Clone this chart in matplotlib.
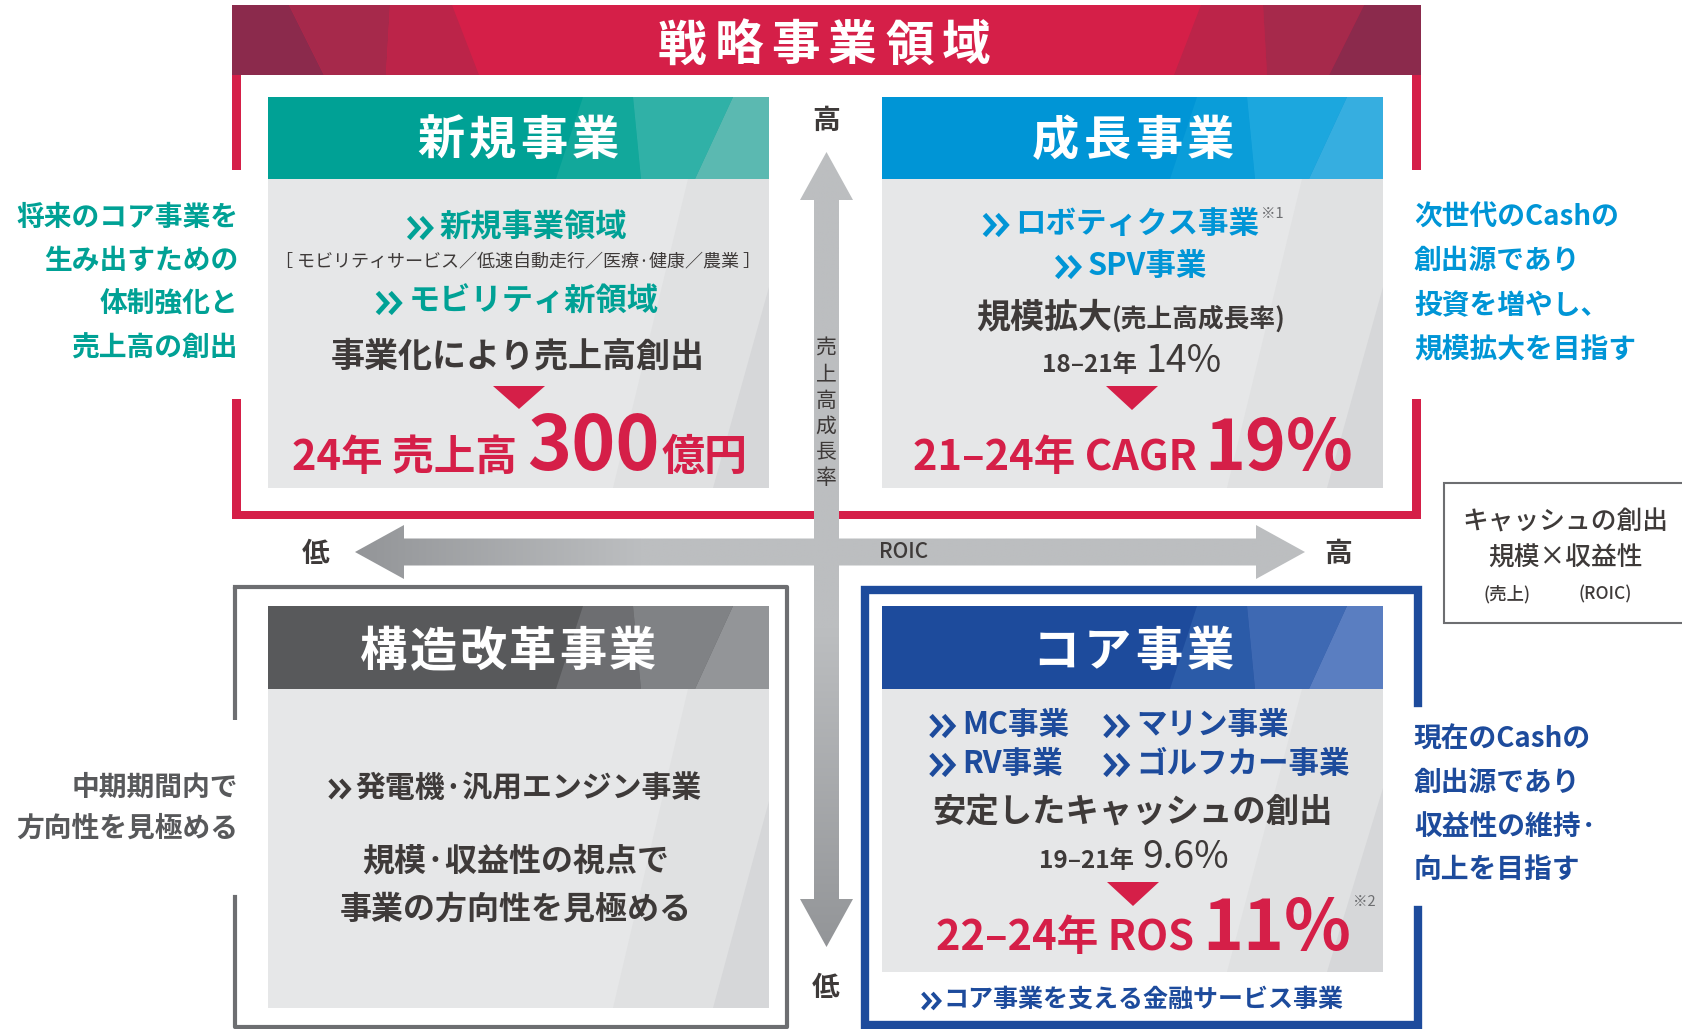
import numpy as np
import matplotlib
matplotlib.use('Agg')
import matplotlib.pyplot as plt
from matplotlib.patches import Polygon, Rectangle
from matplotlib.colors import to_rgb

plt.rcParams['font.family'] = ['Noto Sans CJK JP', 'DejaVu Sans']

# ---- texts / values ----
title = '戦略事業領域'
quad_titles = ['新規事業', '成長事業', '構造改革事業', 'コア事業']
left_new = ['将来のコア事業を', '生み出すための', '体制強化と', '売上高の創出']
right_growth = ['次世代のCashの', '創出源であり', '投資を増やし、', '規模拡大を目指す']
right_core = ['現在のCashの', '創出源であり', '収益性の維持·', '向上を目指す']
left_reform = ['中期期間内で', '方向性を見極める']
cash_box = ['キャッシュの創出', '規模×収益性', '(売上)', '(ROIC)']
x_axis = ['低', 'ROIC', '高']
y_axis = ['高', '売上高成長率', '低']

new_items = ['新規事業領域', 'モビリティ新領域']
new_sub = '［ モビリティサービス／低速自動走行／医療·健康／農業 ］'
new_now = '事業化により売上高創出'
new_target = ['24年 売上高', '300', '億円']
growth_items = ['ロボティクス事業', 'SPV事業']
growth_now = ['規模拡大', '(売上高成長率)']
growth_actual = ['18–21年', '14%']
growth_target = ['21–24年 CAGR', '19%']
core_items = ['MC事業', 'マリン事業', 'RV事業', 'ゴルフカー事業']
core_now = '安定したキャッシュの創出'
core_actual = ['19–21年', '9.6%']
core_target = ['22–24年 ROS', '11%']
core_support = 'コア事業を支える金融サービス事業'
reform_items = ['発電機·汎用エンジン事業']
reform_now = ['規模·収益性の視点で', '事業の方向性を見極める']
notes = ['※1', '※2']

RED = '#D51F48'
TEAL = '#00A195'
BLUE = '#0095D6'
NAVY = '#1D4B9C'
DARK = '#3E3A39'
GREY = '#6D6E71'
BODY = '#E6E7E8'

W, H = 1682, 1029
fig = plt.figure(figsize=(W / 100, H / 100), dpi=100)
ax = fig.add_axes([0, 0, 1, 1])
ax.set_autoscale_on(False)
ax.set_xlim(0, W)
ax.set_ylim(H, 0)
ax.axis('off')
renderer = fig.canvas.get_renderer()


def txt(x, y, s, size, color=DARK, weight='bold', ha='center', va='center', z=10):
    return ax.text(x, y, s, fontsize=size, color=color, fontweight=weight,
                   ha=ha, va=va, zorder=z)


def spaced(s, cx, cy, size, color, step):
    n = len(s)
    for i, ch in enumerate(s):
        txt(cx + (i - (n - 1) / 2) * step, cy, ch, size, color)


def row(pieces, y, cx):
    # pieces: (text, size, color, weight, gap after)
    ts, ws = [], []
    for s, size, color, weight, gap in pieces:
        t = ax.text(0, y, s, fontsize=size, color=color, fontweight=weight,
                    ha='left', va='baseline', zorder=10)
        ts.append(t)
        ws.append(t.get_window_extent(renderer).width + gap)
    x = cx - sum(ws) / 2
    for t, w in zip(ts, ws):
        t.set_x(x)
        x += w
    return x


def chev(x, y, h, color, lw=3.4):
    for dx in (0, h * 0.6):
        ax.plot([x + dx, x + dx + h * 0.45, x + dx], [y - h / 2, y, y + h / 2],
                color=color, lw=lw, zorder=10, solid_joinstyle='miter', solid_capstyle='butt')


def item(s, y, size, color, cx=None, x0=None, h=21, gap=9, lw=3.4):
    t = txt(0, y, s, size, color, ha='left')
    tw = t.get_window_extent(renderer).width
    cw = h * 1.05
    total = cw + gap + tw
    xs = cx - total / 2 if cx is not None else x0
    chev(xs, y + 1, h, color, lw)
    t.set_x(xs + cw + gap)
    return xs + total


def quad_box(x0, y0, y1, y2, cols):
    w = 501
    ax.add_patch(Rectangle((x0, y0), w, y1 - y0, color=cols[0], lw=0, zorder=2))
    facets = [(315, 365, 373, 288), (365, 465, 427, 373), (465, 501, 501, 427)]
    for (t0, t1, b1, b0), c in zip(facets, cols[1:]):
        ax.add_patch(Polygon([(x0 + t0, y0), (x0 + t1, y0), (x0 + b1, y1), (x0 + b0, y1)],
                             color=c, lw=0, zorder=3))
    ax.add_patch(Rectangle((x0, y1), w, y2 - y1, color=BODY, lw=0, zorder=2))
    ax.add_patch(Polygon([(x0 + 420, y1), (x0 + w, y1), (x0 + w, y2), (x0 + 345, y2)],
                         color='#E0E1E2', lw=0, zorder=3))
    ax.add_patch(Polygon([(x0 + w, y1 + (y2 - y1) * 0.35), (x0 + w, y2), (x0 + 445, y2)],
                         color='#D6D7D9', lw=0, zorder=3))


def tri(cx, y0, y1):
    ax.add_patch(Polygon([(cx - 26, y0), (cx + 26, y0), (cx, y1)], color=RED, lw=0, zorder=5))


def grad_poly(pts, extent, stops, axis):
    poly = Polygon(pts, closed=True, facecolor='none', edgecolor='none', zorder=6)
    ax.add_patch(poly)
    n = 400
    pos = np.linspace(0, 1, n)
    p = [s[0] for s in stops]
    cs = np.array([to_rgb(s[1]) for s in stops])
    rgb = np.stack([np.interp(pos, p, cs[:, k]) for k in range(3)], axis=-1)
    arr = rgb[None, :, :] if axis == 'x' else rgb[:, None, :]
    im = ax.imshow(arr, extent=extent, aspect='auto', zorder=6, interpolation='bilinear')
    im.set_clip_path(poly)


# ---- red strategic frame ----
ax.add_patch(Rectangle((232, 5), 1189, 70, color=RED, lw=0, zorder=1))
band_facets = [
    ([(232, 5), (289, 5), (324, 75), (232, 75)], '#8B2A4C'),
    ([(289, 5), (390, 5), (386, 75), (324, 75)], '#A6294B'),
    ([(390, 5), (452, 5), (479, 75), (386, 75)], '#BC2449'),
    ([(1263, 5), (1201, 5), (1174, 75), (1267, 75)], '#BC2449'),
    ([(1364, 5), (1263, 5), (1267, 75), (1329, 75)], '#A6294B'),
    ([(1421, 5), (1364, 5), (1329, 75), (1421, 75)], '#8B2A4C'),
]
for pts, c in band_facets:
    ax.add_patch(Polygon(pts, color=c, lw=0, zorder=1))
for xb in (232, 1412):
    ax.add_patch(Rectangle((xb, 75), 9, 95, color=RED, lw=0, zorder=1))
    ax.add_patch(Rectangle((xb, 399), 9, 120, color=RED, lw=0, zorder=1))
ax.add_patch(Rectangle((232, 511), 1189, 8, color=RED, lw=0, zorder=1))
spaced(title, 824, 46, 35, 'white', 57)

# ---- lower frames ----
ax.plot([235, 235], [720, 587], color=GREY, lw=3, zorder=1, solid_capstyle='butt')
ax.plot([235, 787, 787, 235, 235], [587, 587, 1027, 1027, 897], color=GREY, lw=3, zorder=1)
ax.plot([1418, 1418, 865, 865, 1418, 1418], [703, 590, 590, 1025, 1025, 910],
        color=NAVY, lw=6, zorder=1, solid_joinstyle='miter')

# ---- quadrant boxes ----
quad_box(268, 97, 179, 488, ['#00A195', '#12A89B', '#30B1A7', '#5BB9B1'])
quad_box(882, 97, 179, 488, ['#0095D6', '#0A9DD9', '#1CA7DE', '#36AEE0'])
quad_box(268, 606, 689, 1008, ['#58595B', '#6D6E71', '#808285', '#939598'])
quad_box(882, 606, 689, 972, ['#1D4B9C', '#2B5BA8', '#3E69B3', '#5A7EC1'])

spaced(quad_titles[0], 518, 141, 34, 'white', 51.5)
spaced(quad_titles[1], 1133, 141, 34, 'white', 51.5)
spaced(quad_titles[2], 508, 652, 34, 'white', 49.7)
spaced(quad_titles[3], 1133, 652, 34, 'white', 51.5)

# ---- new business ----
item(new_items[0], 227, 22.5, TEAL, cx=518)
txt(518, 262, new_sub, 13, DARK, weight='normal')
item(new_items[1], 302, 22.5, TEAL, cx=518)
txt(518, 356, new_now, 24.5, DARK)
tri(519, 386, 409)
row([(new_target[0], 30, RED, 'bold', 10), (new_target[1], 54, RED, 'bold', 2),
     (new_target[2], 31, RED, 'bold', 0)], 470, 520)

# ---- growth business ----
xe = item(growth_items[0], 224, 22, BLUE, cx=1122)
txt(xe + 1, 214, notes[0], 10.5, GREY, weight='normal', ha='left')
item(growth_items[1], 266, 22, BLUE, cx=1132)
row([(growth_now[0], 24.5, DARK, 'bold', 0), (growth_now[1], 18.5, DARK, 'bold', 0)], 327, 1131)
row([(growth_actual[0], 17.5, DARK, 'bold', 8), (growth_actual[1], 27, DARK, 'normal', 0)], 372, 1132)
tri(1132, 386, 410)
row([(growth_target[0], 30, RED, 'bold', 8), (growth_target[1], 50, RED, 'bold', 0)], 470, 1133)

# ---- core business ----
for i, s in enumerate(core_items):
    item(s, 725 if i < 2 else 764, 22, NAVY, x0=931 if i % 2 == 0 else 1105)
txt(1133, 812, core_now, 24, DARK)
row([(core_actual[0], 17.5, DARK, 'bold', 8), (core_actual[1], 27, DARK, 'normal', 0)], 868, 1134)
tri(1133, 882, 906)
xe = row([(core_target[0], 30, RED, 'bold', 8), (core_target[1], 50, RED, 'bold', 0)], 950, 1144)
txt(xe + 2, 902, notes[1], 10.5, GREY, weight='normal', ha='left')
item(core_support, 1000, 18, NAVY, cx=1133, h=16, gap=4, lw=2.8)

# ---- reform business ----
item(reform_items[0], 788, 21.5, DARK, cx=516, h=18, gap=7, lw=3)
txt(516, 861, reform_now[0], 23, DARK)
txt(516, 910, reform_now[1], 23, DARK)

# ---- side notes ----
for i, s in enumerate(left_new):
    txt(238, [218, 261, 305, 349][i], s, 20, TEAL, ha='right')
for i, s in enumerate(right_growth):
    txt(1414, [218, 261, 305, 349][i], s, 20, BLUE, ha='left')
for i, s in enumerate(right_core):
    txt(1414, [740, 783, 827, 870][i], s, 20, NAVY, ha='left')
for i, s in enumerate(left_reform):
    txt(238, [788, 829][i], s, 20, '#58595B', ha='right')

# ---- cash box ----
ax.add_patch(Rectangle((1444, 483), 260, 140, facecolor='white', edgecolor=GREY, lw=1.5, zorder=2))
txt(1565, 522, cash_box[0], 18.5, DARK, weight='medium')
txt(1565, 558, cash_box[1], 18.5, DARK, weight='medium')
txt(1507, 594, cash_box[2], 12.5, DARK, weight='medium')
txt(1605, 594, cash_box[3], 12.5, DARK, weight='medium')

# ---- axes arrows ----
cy, sh, hh, hl = 552, 13.5, 27, 49
hx = [(355, cy), (355 + hl, cy - hh), (355 + hl, cy - sh), (1305 - hl, cy - sh), (1305 - hl, cy - hh),
      (1305, cy), (1305 - hl, cy + hh), (1305 - hl, cy + sh), (355 + hl, cy + sh), (355 + hl, cy + hh)]
grad_poly(hx, (355, 1305, cy + hh, cy - hh),
          [(0, '#939598'), (0.3, '#BCBEC0'), (1, '#BCBEC0')], 'x')
cx, sw, hw, vl = 826.5, 12.5, 26.5, 48
vx = [(cx, 152), (cx + hw, 152 + vl), (cx + sw, 152 + vl), (cx + sw, 947 - vl), (cx + hw, 947 - vl),
      (cx, 947), (cx - hw, 947 - vl), (cx - sw, 947 - vl), (cx - sw, 152 + vl), (cx - hw, 152 + vl)]
grad_poly(vx, (cx - hw, cx + hw, 947, 152),
          [(0, '#BCBEC0'), (0.6, '#BCBEC0'), (1, '#939598')], 'y')

txt(316, 554, x_axis[0], 20, DARK)
txt(904, 552, x_axis[1], 15, DARK, weight='medium')
txt(1338, 554, x_axis[2], 20, DARK)
txt(826, 121, y_axis[0], 20, DARK)
txt(826, 988, y_axis[2], 20, DARK)
for i, ch in enumerate(y_axis[1]):
    txt(826, 349 + i * 25.8, ch, 15, DARK, weight='normal', z=12)

fig.savefig('out.png', dpi=100)
